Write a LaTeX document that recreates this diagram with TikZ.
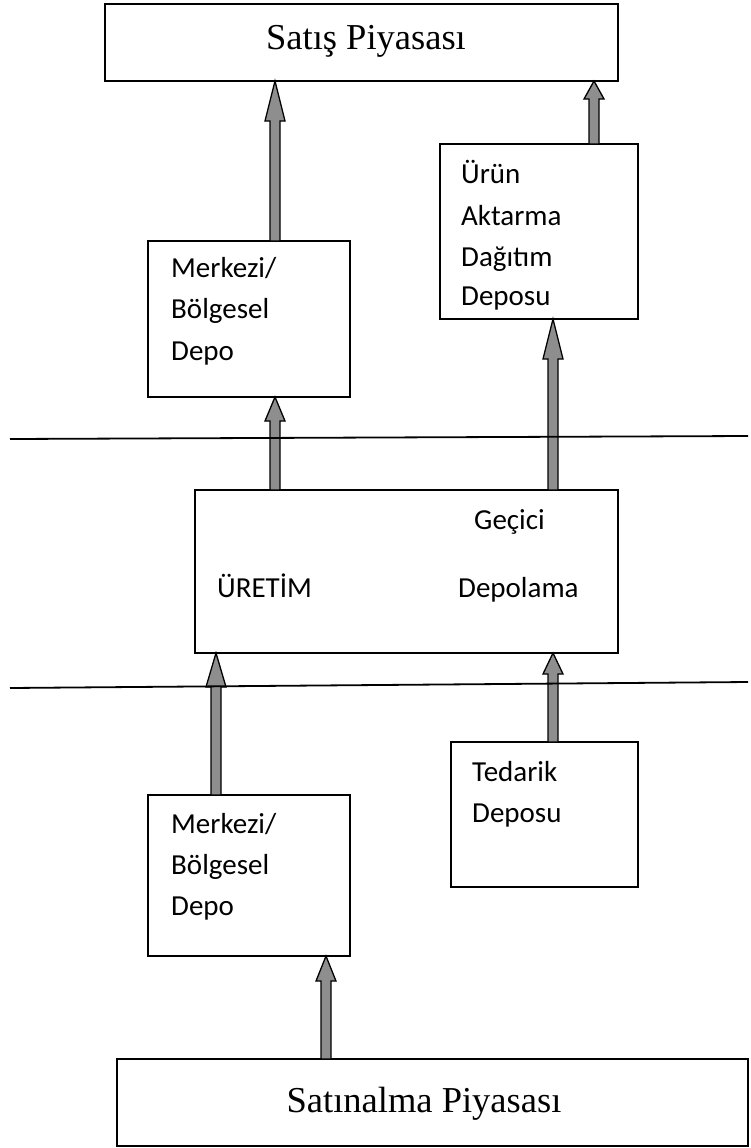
\documentclass[tikz,border=0pt]{standalone}
\usepackage{fontspec}
\setmainfont{Liberation Serif}
\newfontfamily\boxfont{Carlito}
\usetikzlibrary{calc}
\definecolor{arrgray}{RGB}{142,142,142}
\tikzset{
  box/.style={draw=black, line width=1.7pt, inner sep=0pt, outer sep=0pt, anchor=north west},
  lbl/.style={font=\boxfont\fontsize{29}{35}\selectfont, inner sep=0pt, anchor=base west},
  big/.style={font=\fontsize{36.5}{44}\selectfont, inner sep=0pt, anchor=base},
  fat/.style={draw=black, line width=1.3pt, fill=arrgray, line join=miter},
  sepline/.style={draw=black, line width=1.8pt},
}
\newcommand\uparr[4]{% x, lower node, upper node, head length
  \draw[fat] let \p1=(#2.north), \p2=(#3.south), \p3=(#1,0) in
  ({\x3-5pt},\y1) -- ({\x3-5pt},{\y2-#4pt}) -- ({\x3-10pt},{\y2-#4pt}) -- (\x3,\y2)
  -- ({\x3+10pt},{\y2-#4pt}) -- ({\x3+5pt},{\y2-#4pt}) -- ({\x3+5pt},\y1) -- cycle;}
\begin{document}
\begin{tikzpicture}[x=1pt,y=-1pt]
\useasboundingbox (0,0) rectangle (750,1148);
% boxes
\node[box, minimum width=513pt, minimum height=77pt] (sat) at (105,4) {};
\node[box, minimum width=198pt, minimum height=175pt] (urun) at (440,144) {};
\node[box, minimum width=202pt, minimum height=156pt] (m1) at (148,241) {};
\node[box, minimum width=423pt, minimum height=163pt] (uret) at (195,490) {};
\node[box, minimum width=187pt, minimum height=145pt] (ted) at (451,742) {};
\node[box, minimum width=202pt, minimum height=161pt] (m2) at (148,795) {};
\node[box, minimum width=631pt, minimum height=87pt] (alim) at (117,1059) {};
% texts
\node[big] (tsat) at (366,49) {Satış Piyasası};
\node[big] (talim) at (424,1112) {Satınalma Piyasası};
\node[lbl] (u1) at (461,183) {Ürün};
\node[lbl] (u2) at (461,225) {Aktarma};
\node[lbl] (u3) at (461,266) {Dağıtım};
\node[lbl] (u4) at (461,305) {Deposu};
\node[lbl] (a1) at (171,277) {Merkezi/};
\node[lbl] (a2) at (171,318) {Bölgesel};
\node[lbl] (a3) at (171,360) {Depo};
\node[lbl] (g1) at (474,529) {Geçici};
\node[lbl] (g2) at (217,597) {ÜRETİM};
\node[lbl] (g3) at (458,597) {Depolama};
\node[lbl] (d1) at (472,781) {Tedarik};
\node[lbl] (d2) at (472,822) {Deposu};
\node[lbl] (b1) at (171,833) {Merkezi/};
\node[lbl] (b2) at (171,874) {Bölgesel};
\node[lbl] (b3) at (171,915) {Depo};
% arrows
\uparr{275}{m1}{sat}{40}
\uparr{594}{urun}{sat}{18}
\uparr{275}{uret}{m1}{24}
\uparr{553}{uret}{urun}{40}
\uparr{216}{m2}{uret}{34}
\uparr{553}{ted}{uret}{21}
\uparr{326}{alim}{m2}{25}
% separator lines
\coordinate (l1a) at (10,439);
\coordinate (l1b) at (748,436);
\coordinate (l2a) at (10,688);
\coordinate (l2b) at (748,682);
\draw[sepline] (l1a) -- (l1b);
\draw[sepline] (l2a) -- (l2b);
\end{tikzpicture}
\end{document}
